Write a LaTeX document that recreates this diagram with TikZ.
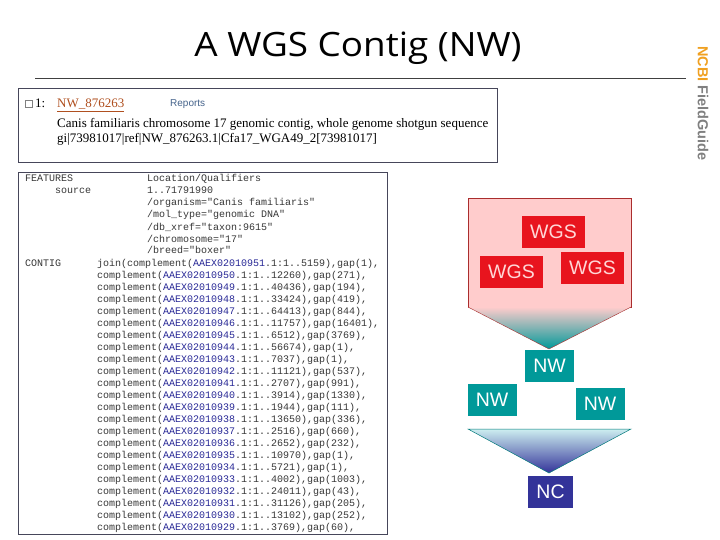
\documentclass[tikz,border=0pt]{standalone}
\usepackage{fontspec}
\setmainfont{Liberation Serif}
\setsansfont{Liberation Sans}
\newfontfamily\titlefont[FakeStretch=1.1]{Open Sans}
\newfontfamily\codefont{Liberation Mono}
\usetikzlibrary{positioning}

\definecolor{wgsred}{RGB}{232,20,30}
\definecolor{wgstext}{RGB}{255,215,215}
\definecolor{wgspink}{RGB}{255,204,204}
\definecolor{wgsline}{RGB}{170,45,45}
\definecolor{nwteal}{RGB}{0,153,153}
\definecolor{ncblue}{RGB}{51,51,153}
\definecolor{funneltop}{RGB}{205,238,240}
\definecolor{funnelmid}{RGB}{95,170,190}
\definecolor{linkblue}{RGB}{40,40,150}
\definecolor{linkbrown}{RGB}{176,80,32}
\definecolor{reportblue}{RGB}{70,100,140}
\definecolor{ncbiorange}{RGB}{240,160,32}
\definecolor{codegray}{RGB}{55,55,55}
\definecolor{boxgray}{RGB}{70,70,90}

\tikzset{
  seqbox/.style={inner sep=0pt, minimum height=32pt,
    font=\sffamily\fontsize{19.5}{20}\selectfont},
  wgsbox/.style={seqbox, fill=wgsred, text=wgstext, minimum width=63pt},
  nwbox/.style={seqbox, fill=nwteal, text=white, minimum width=49pt},
  ncbox/.style={seqbox, fill=ncblue, text=white, minimum width=45pt},
  code/.style={anchor=base west, inner sep=0pt, text=codegray,
    font=\codefont\fontsize{10}{12}\selectfont},
  entry/.style={anchor=base west, inner sep=0pt,
    font=\fontsize{13}{15}\selectfont}
}

\begin{document}
\begin{tikzpicture}[x=1pt, y=-1pt]
    \useasboundingbox[fill=white] (0,0) rectangle (720,540);
    % title and side label
    \node[anchor=base] (title) at (358,57)
      {\titlefont\fontsize{33.5}{36}\selectfont A WGS Contig (NW)};
    \draw[black!75] (35,78) -- (686,78);
    \node[rotate=-90, anchor=west, inner sep=0pt] (fieldguide) at (703,46)
      {\sffamily\bfseries\fontsize{14.5}{14.5}\selectfont
       \textcolor{ncbiorange}{NCBI} \textcolor{gray}{FieldGuide}};
    % Entrez summary entry
    \draw[boxgray] (18,88) rectangle (497,162);
    \node[draw=gray, minimum size=7pt, inner sep=0pt] (check) at (28.5,104) {};
    \node[entry] (num) at (35,108) {1:};
    \node[entry, text=linkbrown] (acc) at (57,108) {\underline{NW\_876263}};
    \node[entry, text=reportblue, font=\sffamily\fontsize{10}{12}\selectfont]
      (reports) at (170,107) {Reports};
    \node[entry] (defline) at (57,128)
      {Canis familiaris chromosome 17 genomic contig, whole genome shotgun sequence};
    \node[entry] (gi) at (57,143)
      {gi|73981017|ref|NW\_876263.1|Cfa17\_WGA49\_2[73981017]};
    % GenBank flat file
    \draw[boxgray] (18,172) rectangle (387,534);
    \node[code] (features) at (25,182) {FEATURES};
    \node[code] (location) at (147,182) {Location/Qualifiers};
    \node[code] (source) at (55,194) {source};
    \foreach \i/\label in {1/{1..71791990},2/{/organism="Canis familiaris"},
        3/{/mol\_type="genomic DNA"},4/{/db\_xref="taxon:9615"},
        5/{/chromosome="17"},6/{/breed="boxer"}}
      \node[code] (qual\i) at (147,{182+12*\i}) {\label};
    \node[code] (contig) at (25,266) {CONTIG};
    \node[code] (join) at (97,266)
      {join(complement(\textcolor{linkblue}{AAEX02010951}.1:1..5159),gap(1),};
    \foreach \i/\acc/\len/\gap in {1/10950/12260/271,2/10949/40436/194,
        3/10948/33424/419,4/10947/64413/844,5/10946/11757/16401,
        6/10945/6512/3769,7/10944/56674/1,8/10943/7037/1,9/10942/11121/537,
        10/10941/2707/991,11/10940/3914/1330,12/10939/1944/111,
        13/10938/13650/336,14/10937/2516/660,15/10936/2652/232,
        16/10935/10970/1,17/10934/5721/1,18/10933/4002/1003,
        19/10932/24011/43,20/10931/31126/205,21/10930/13102/252,
        22/10929/3769/60}
      \node[code] (part\i) at (97,{266+12*\i})
        {complement(\textcolor{linkblue}{AAEX020\acc}.1:1..\len),gap(\gap),};
    % WGS reads into NW contigs
    \draw[wgsline, fill=wgspink] (468,198) rectangle (631,307);
    \shade[top color=wgspink, bottom color=nwteal]
      (468,307) -- (631,307) -- (549,349) -- cycle;
    \draw[wgsline] (468,307) -- (549,349) -- (631,307);
    \node[wgsbox] (wgs1) at (553.5,232) {WGS};
    \node[wgsbox] (wgs2) at (511.5,272) {WGS};
    \node[wgsbox] (wgs3) at (592.5,268) {WGS};
    \node[nwbox] (nw1) at (549.5,366) {NW};
    \node[nwbox] (nw2) at (492,400) {NW};
    \node[nwbox] (nw3) at (600,404) {NW};
    % NW contigs into NC chromosome
    \shade[top color=funneltop, middle color=funnelmid, bottom color=ncblue]
      (468,429) -- (631,429) -- (549,473) -- cycle;
    \draw[nwteal!80!black, line width=.5pt]
      (468,429) -- (631,429) -- (549,473) -- cycle;
    \node[ncbox] (nc) at (550.5,491.5) {NC};
\end{tikzpicture}
\end{document}
